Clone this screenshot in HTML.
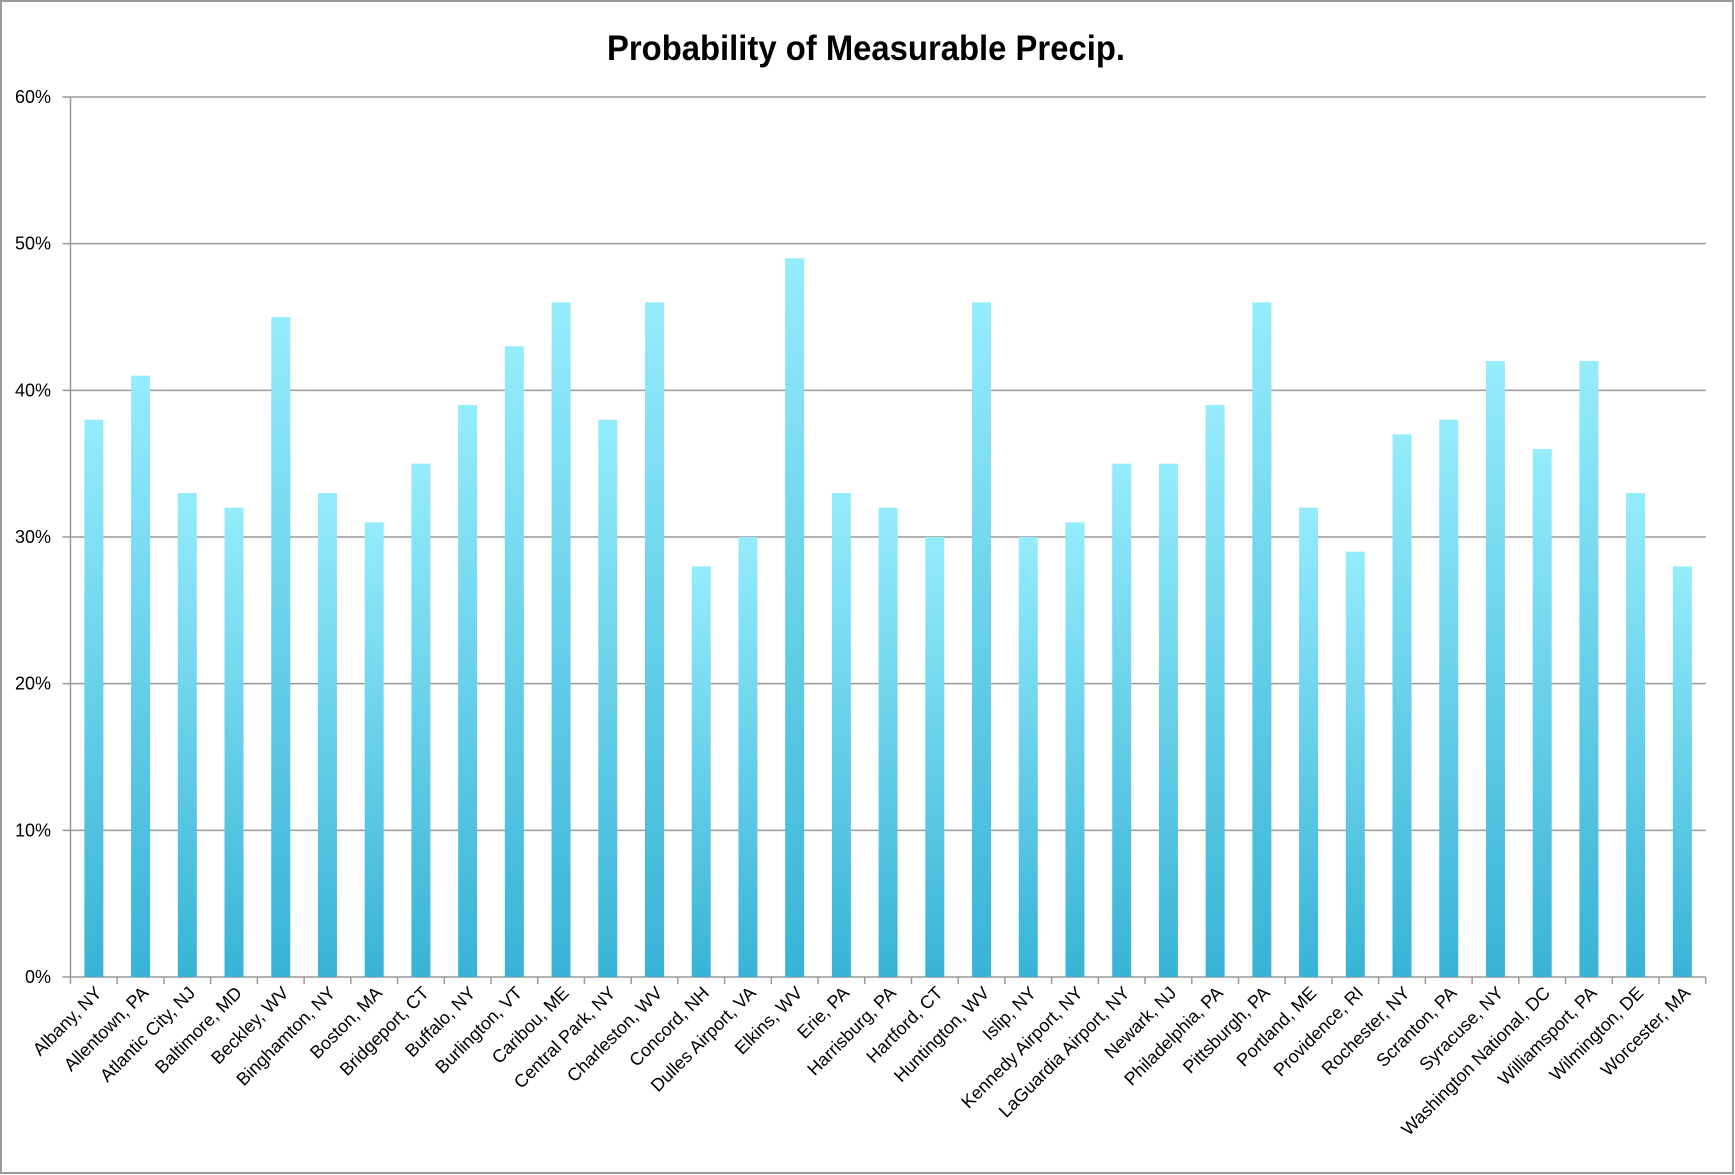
<!DOCTYPE html>
<html><head><meta charset="utf-8"><style>
html,body{margin:0;padding:0;background:#fff}
svg{display:block}
text{font-family:"Liberation Sans",sans-serif}
</style></head><body>
<svg width="1735" height="1175" viewBox="0 0 1735 1175" xmlns="http://www.w3.org/2000/svg">
<defs>
<linearGradient id="g" x1="0" y1="0" x2="0" y2="1">
<stop offset="0" stop-color="#95ecfc"/>
<stop offset="1" stop-color="#38b3d6"/>
</linearGradient>
</defs>
<rect x="1" y="1" width="1732" height="1172" fill="#fff" stroke="#9a9a9a" stroke-width="2"/>
<text x="866" y="60" font-size="35" font-weight="bold" text-anchor="middle" textLength="518" lengthAdjust="spacingAndGlyphs">Probability of Measurable Precip.</text>
<g id="grid" stroke="#999" stroke-width="1.5"></g>
<g id="bars"></g>
<g id="labels" font-size="18" fill="#000"></g>
</svg>
<script>
var NS="http://www.w3.org/2000/svg";
var names=["Albany, NY","Allentown, PA","Atlantic City, NJ","Baltimore, MD","Beckley, WV","Binghamton, NY","Boston, MA","Bridgeport, CT","Buffalo, NY","Burlington, VT","Caribou, ME","Central Park, NY","Charleston, WV","Concord, NH","Dulles Airport, VA","Elkins, WV","Erie, PA","Harrisburg, PA","Hartford, CT","Huntington, WV","Islip, NY","Kennedy Airport, NY","LaGuardia Airport, NY","Newark, NJ","Philadelphia, PA","Pittsburgh, PA","Portland, ME","Providence, RI","Rochester, NY","Scranton, PA","Syracuse, NY","Washington National, DC","Williamsport, PA","Wilmington, DE","Worcester, MA"];
var vals=[38,41,33,32,45,33,31,35,39,43,46,38,46,28,30,49,33,32,30,46,30,31,35,35,39,46,32,29,37,38,42,36,42,33,28];
var L=70.5,R=1705.7,Y0=977,U=14.667,n=names.length,cw=(R-L)/n;
function el(t,a,p,txt){var e=document.createElementNS(NS,t);for(var k in a)e.setAttribute(k,a[k]);if(txt)e.textContent=txt;document.getElementById(p).appendChild(e);return e;}
for(var i=0;i<=6;i++){var y=Y0-i*10*U;
 el("line",{x1:L-8,x2:R,y1:y,y2:y},"grid");
 el("text",{x:51,y:y+6,"text-anchor":"end"},"labels",(i*10)+"%");}
el("line",{x1:L,x2:L,y1:Y0-60*U,y2:Y0},"grid");
for(var i=0;i<=n;i++){var x=L+i*cw;el("line",{x1:x,x2:x,y1:Y0,y2:Y0+7},"grid");}
for(var i=0;i<n;i++){var cx=L+(i+0.5)*cw,h=vals[i]*U;
 el("rect",{x:cx-9.5,y:Y0-h,width:19,height:h,fill:"url(#g)"},"bars");
 var tx=cx+9,ty=994;
 el("text",{x:tx,y:ty,"text-anchor":"end",transform:"rotate(-45 "+tx+" "+ty+")"},"labels",names[i]);}
</script>
</body></html>
